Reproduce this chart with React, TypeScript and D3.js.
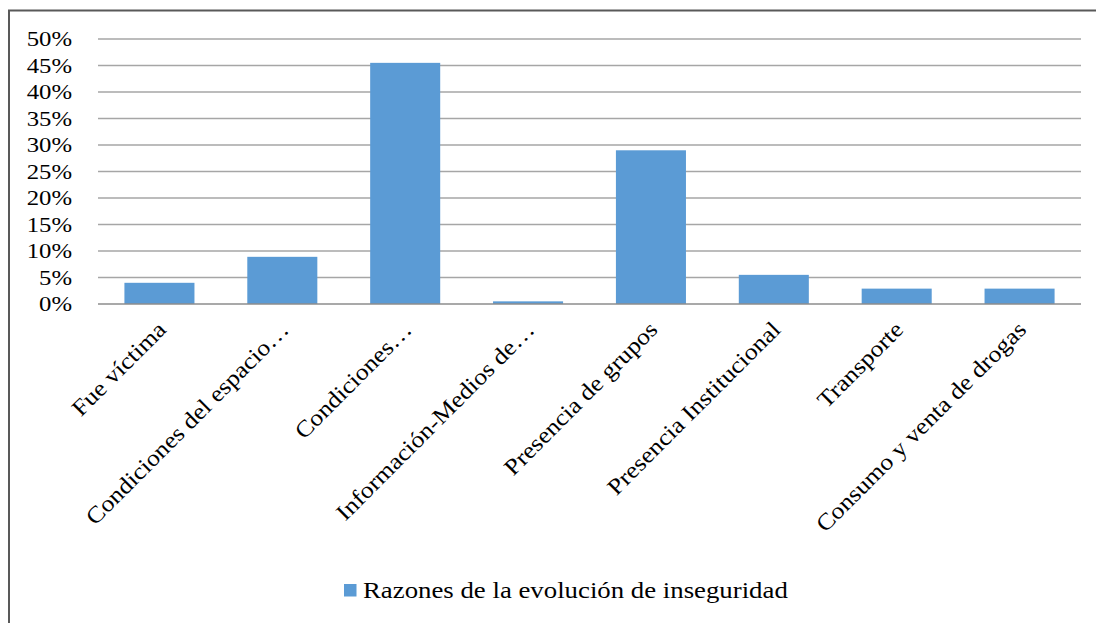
import * as React from "react";
import * as d3 from "d3";

const { useRef, useEffect } = React;

const categories = [
  "Fue víctima",
  "Condiciones del espacio…",
  "Condiciones…",
  "Información-Medios de…",
  "Presencia de grupos",
  "Presencia Institucional",
  "Transporte",
  "Consumo y venta de drogas",
];
const values = [0.04, 0.089, 0.455, 0.005, 0.29, 0.055, 0.029, 0.029];
const yTicks = [0, 0.05, 0.1, 0.15, 0.2, 0.25, 0.3, 0.35, 0.4, 0.45, 0.5];
const seriesName = "Razones de la evolución de inseguridad";

const W = 1096;
const H = 623;
const FONT = "'Liberation Serif', 'Times New Roman', serif";

// the original text is rendered a bit wider than Liberation Serif
function widen(k) {
  return sel => sel.each(function () {
    const len = this.getComputedTextLength();
    d3.select(this)
      .attr("textLength", len * k)
      .attr("lengthAdjust", "spacingAndGlyphs");
  });
}

export default function App() {
  const svgRef = useRef(null);

  useEffect(() => {
    const svg = d3.select(svgRef.current);
    svg.selectAll("*").remove();

    let margin = { top: 39, left: 98, right: 1081, bottom: 304 };

    // chart frame
    svg.append("rect")
      .attr("x", 9).attr("y", 10.5)
      .attr("width", W + 20).attr("height", H + 20)
      .attr("fill", "#fff")
      .attr("stroke", "#595959")
      .attr("stroke-width", 2);

    var x = d3.scaleBand()
      .domain(categories)
      .range([margin.left, margin.right])
      .paddingInner(0.43)
      .paddingOuter(0.215);

    var y = d3.scaleLinear()
      .domain([0, 0.5])
      .range([margin.bottom, margin.top]);

    const g = svg.append("g");

    g.selectAll("line.grid")
      .data(yTicks.slice(1))
      .enter().append("line")
        .attr("class", "grid")
        .attr("x1", margin.left).attr("x2", margin.right)
        .attr("y1", d => y(d)).attr("y2", d => y(d))
        .attr("stroke", "#a6a6a6")
        .attr("stroke-width", 1.5);

    g.selectAll("text.ytick")
      .data(yTicks)
      .enter().append("text")
        .attr("class", "ytick")
        .attr("x", 72)
        .attr("y", d => y(d))
        .attr("dy", "0.34em")
        .attr("text-anchor", "end")
        .attr("font-family", FONT)
        .attr("font-size", 21.5)
        .attr("fill", "#000")
        .text(d => d3.format(".0%")(d))
        .call(widen(1.15));

    g.selectAll("rect.bar")
      .data(values)
      .enter().append("rect")
        .attr("class", "bar")
        .attr("x", (d, i) => x(categories[i]))
        .attr("y", d => y(d))
        .attr("width", x.bandwidth())
        .attr("height", d => y(0) - y(d))
        .attr("fill", "#5b9bd5");

    // axis line
    g.append("line")
      .attr("x1", margin.left).attr("x2", margin.right)
      .attr("y1", y(0)).attr("y2", y(0))
      .attr("stroke", "#8c8c8c")
      .attr("stroke-width", 1.5);

    g.selectAll("text.xlabel")
      .data(categories)
      .enter().append("text")
        .attr("class", "xlabel")
        .attr("transform", d => {
          const cx = x(d) + x.bandwidth() / 2 + 8;
          return "translate(" + cx + "," + (y(0) + 27) + ") rotate(-45)";
        })
        .attr("text-anchor", "end")
        .attr("font-family", FONT)
        .attr("font-size", 23)
        .attr("fill", "#000")
        .text(d => d)
        .call(widen(1.12));

    // legend
    const legend = g.append("g").attr("transform", "translate(344,584)");
    legend.append("rect")
      .attr("width", 12.5).attr("height", 12.5)
      .attr("fill", "#5b9bd5");
    legend.append("text")
      .attr("x", 19)
      .attr("y", 13.5)
      .attr("font-family", FONT)
      .attr("font-size", 23.5)
      .attr("fill", "#000")
      .text(seriesName)
      .call(widen(1.14));
  }, []);

  return (
    <svg ref={svgRef} width={W} height={H}
      style={{ position: "absolute", left: 0, top: 0, background: "#fff" }}>
    </svg>
  );
}
